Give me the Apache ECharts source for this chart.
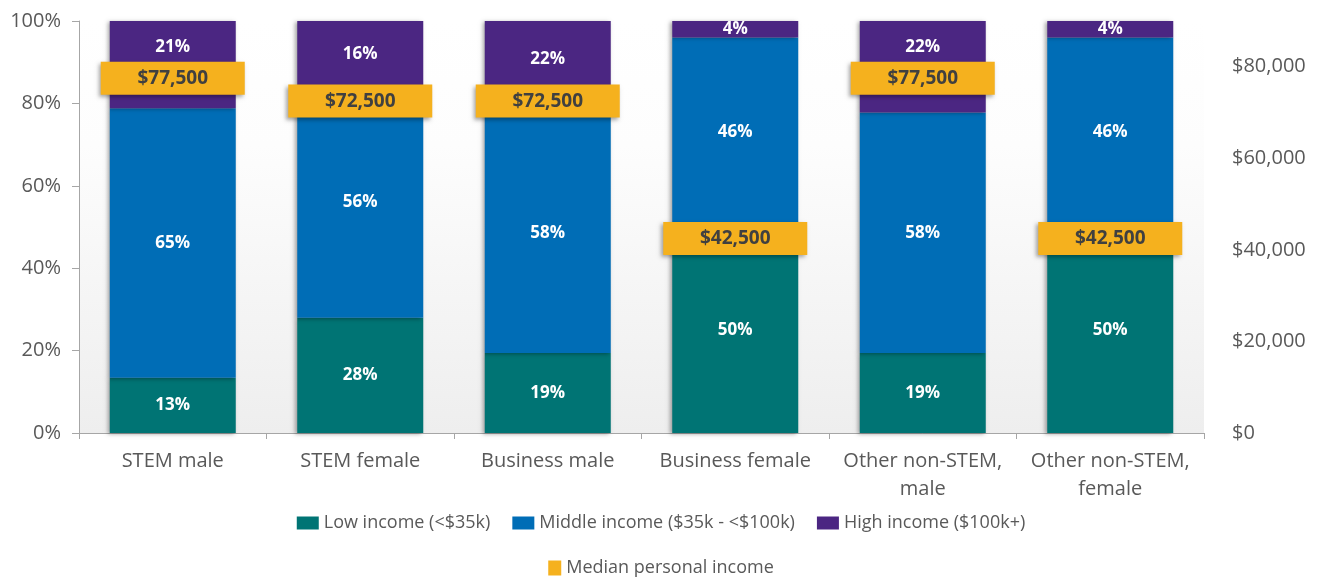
<!DOCTYPE html>
<html>
<head>
<meta charset="utf-8">
<script src="https://cdn.jsdelivr.net/npm/echarts@6/dist/echarts.min.js"></script>
<style>
html,body{margin:0;padding:0;background:#fff;}
#chart{width:1322px;height:578px;}
</style>
</head>
<body>
<div id="chart"></div>
<script>
const categories = ['STEM male', 'STEM female', 'Business male', 'Business female', 'Other non-STEM,\nmale', 'Other non-STEM,\nfemale'];
const lowIncome = [13.4, 28, 19.4, 50, 19.4, 50];
const middleIncome = [65.4, 56, 58.4, 46, 58.4, 46];
const highIncome = [21.2, 16, 22.2, 4, 22.2, 4];
const medianIncome = [77500, 72500, 72500, 42500, 77500, 42500];
const seriesNames = ['Low income (<$35k)', 'Middle income ($35k - <$100k)', 'High income ($100k+)', 'Median personal income'];

const FONT = 'Open Sans';
const colors = ['#007474', '#006DB6', '#4B2682', '#F5B11E'];
const barShadow = {shadowColor: 'rgba(0,0,0,0.35)', shadowBlur: 4, shadowOffsetX: -2, shadowOffsetY: 1};

function barSeries(name, data, color) {
  return {
    name: name, type: 'bar', stack: 'income', data: data, barWidth: 126,
    yAxisIndex: 0,
    itemStyle: Object.assign({color: color}, barShadow),
    label: {show: true, position: 'inside', color: '#fff', fontFamily: FONT, fontWeight: 'bold', fontSize: 17,
      formatter: p => Math.round(p.value) + '%'}
  };
}

const chart = echarts.init(document.getElementById('chart'));
const option = {
  animation: false,
  textStyle: {fontFamily: FONT},
  grid: {left: 79, right: 118, top: 21, bottom: 145, show: true, borderWidth: 0,
    backgroundColor: {type: 'linear', x: 0, y: 0, x2: 0, y2: 1,
      colorStops: [{offset: 0, color: '#ffffff'}, {offset: 0.3, color: '#fdfdfd'}, {offset: 1, color: '#eeeeee'}]}},
  legend: [
    {data: seriesNames.slice(0, 3), top: 509, left: 'center', itemWidth: 22, itemHeight: 13, itemGap: 22,
      icon: 'rect', textStyle: {color: '#595959', fontSize: 18, fontFamily: FONT}},
    {data: [seriesNames[3]], top: 554, left: 'center', itemWidth: 13, itemHeight: 15,
      icon: 'rect', textStyle: {color: '#595959', fontSize: 18, fontFamily: FONT}}
  ],
  xAxis: {
    type: 'category', data: categories,
    axisLine: {lineStyle: {color: '#a6a6a6'}},
    axisTick: {show: true, interval: 0, length: 6, lineStyle: {color: '#a6a6a6'}},
    axisLabel: {interval: 0, hideOverlap: false, color: '#595959', fontSize: 20, fontFamily: FONT, margin: 14, lineHeight: 28}
  },
  yAxis: [
    {type: 'value', min: 0, max: 100, interval: 20, position: 'left',
      axisLine: {show: true, lineStyle: {color: '#a6a6a6'}},
      axisTick: {show: true, length: 7, lineStyle: {color: '#a6a6a6'}},
      splitLine: {show: false},
      axisLabel: {color: '#595959', fontSize: 20, fontFamily: FONT, margin: 18, formatter: v => v + '%'}},
    {type: 'value', min: 0, max: 90000, interval: 20000, position: 'right',
      axisLine: {show: false}, axisTick: {show: false}, splitLine: {show: false},
      axisLabel: {color: '#595959', fontSize: 20, fontFamily: FONT, margin: 28, showMaxLabel: false,
        formatter: v => '$' + v.toLocaleString('en-US')}}
  ],
  series: [
    barSeries(seriesNames[0], lowIncome, colors[0]),
    barSeries(seriesNames[1], middleIncome, colors[1]),
    barSeries(seriesNames[2], highIncome, colors[2]),
    {
      name: seriesNames[3], type: 'scatter', yAxisIndex: 1, data: medianIncome, z: 5,
      symbol: 'rect', symbolSize: [144, 33],
      itemStyle: {color: colors[3], opacity: 1, shadowColor: 'rgba(0,0,0,0.35)', shadowBlur: 4, shadowOffsetX: -2, shadowOffsetY: 2},
      label: {show: true, position: 'inside', color: '#404040', fontWeight: 'bold', fontSize: 19, fontFamily: FONT,
        formatter: p => '$' + p.value.toLocaleString('en-US')},
      emphasis: {disabled: true}
    }
  ]
};
chart.setOption(option);

// Move high-income labels above the median marker where the marker covers the segment
const highData = highIncome.map((v, i) => {
  const segTop = chart.convertToPixel({yAxisIndex: 0}, lowIncome[i] + middleIncome[i] + v);
  const segBottom = chart.convertToPixel({yAxisIndex: 0}, lowIncome[i] + middleIncome[i]);
  const markerTop = chart.convertToPixel({yAxisIndex: 1}, medianIncome[i]) - 16.5;
  const center = (segTop + segBottom) / 2;
  if (segBottom - markerTop > 10 && markerTop > segTop) {
    const target = (segTop + markerTop) / 2 + 6;
    return {value: v, label: {offset: [0, target - center]}};
  }
  return v;
});
chart.setOption({series: [{}, {}, {data: highData}, {}]});
</script>
</body>
</html>
